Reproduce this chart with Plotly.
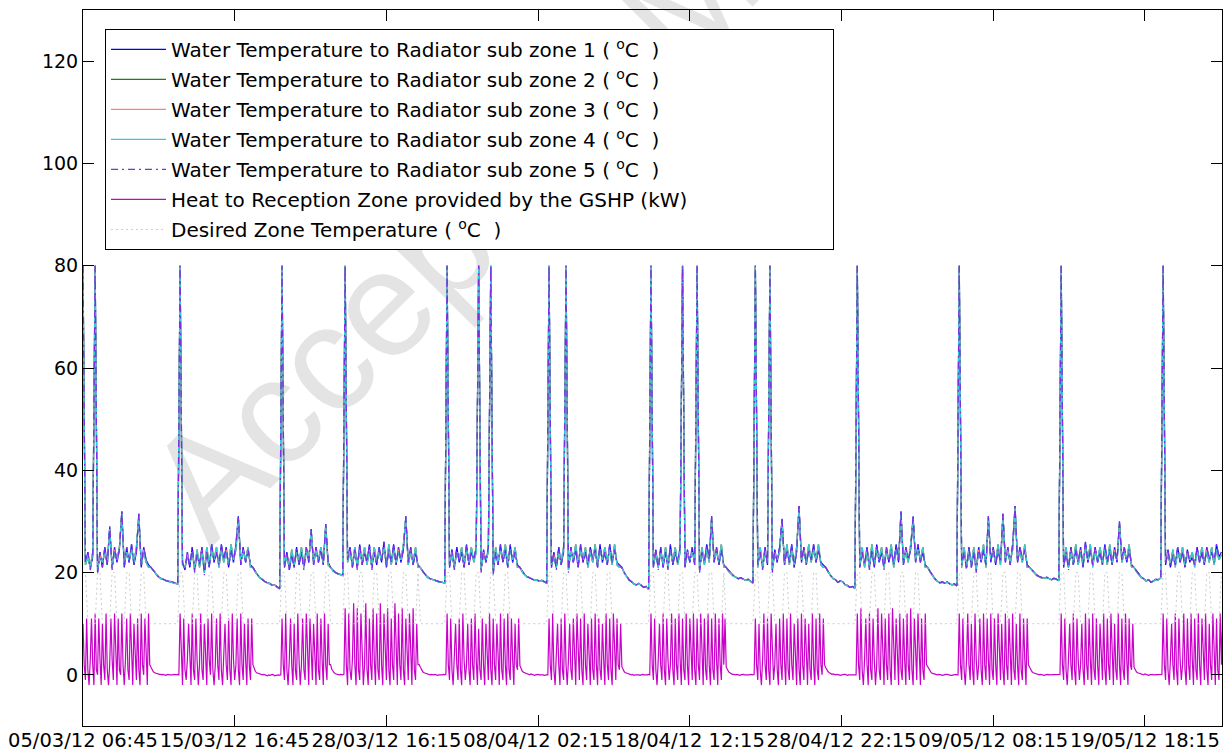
import plotly.graph_objects as go

# time axis: water/setpoint one point every 16 samples of 15 min (4 h), heat every 8 samples (2 h)
STEP = 16
STEP_HEAT = 8
tick_pos = [0, 1000, 2000, 3000, 4000, 5000, 6000, 7000]
tick_text = ["05/03/12 06:45", "15/03/12 16:45", "28/03/12 16:15", "08/04/12 02:15",
             "18/04/12 12:15", "28/04/12 22:15", "09/05/12 08:15", "19/05/12 18:15"]
y_ticks = [0, 20, 40, 60, 80, 100, 120]

water1 = [
    80, 22, 24, 21, 23, 80, 20, 24, 21, 25, 21.5, 29, 21, 25, 22, 24.5, 32, 21, 25, 22, 25.5, 21.5, 24, 31.5, 21, 25, 22.5, 21.5,
    21, 20.5, 19.8, 19.2, 18.9, 18.7, 18.5, 18.3, 18.3, 18.1, 17.9, 17.8,
    80, 22, 20.5, 24, 21, 25, 20.5, 23.5, 21.5, 25, 20, 24, 21, 25.5, 22, 24, 21.5, 25.5, 22.5, 25, 21, 24.5, 22, 25.5, 31, 21.5, 25, 22, 24.5, 21.5,
    21, 20.2, 19.5, 19, 18.6, 18.2, 18, 17.9, 17.5, 17.6, 17.2, 16.9,
    80, 21, 24, 20.5, 23.5, 21, 25, 21.5, 24, 21, 25, 22, 28.5, 21.5, 25, 22, 24.5, 21.5, 29.5, 22,
    21, 20.4, 20, 19.8, 19.6, 19.5,
    80, 22.5, 25, 21, 24.5, 21, 25.5, 21.5, 24, 22, 25.5, 21, 24, 21.5, 25, 22, 26, 21, 24.5, 22, 25.5, 21.5, 25, 22, 24.5, 31, 22, 25, 21.5, 24, 21.5,
    21, 20.3, 19.6, 19.1, 18.8, 18.7, 18.5, 18.3, 18.2, 18.1, 18,
    80, 21, 24.5, 21, 25, 22, 24, 21, 25.5, 21.5, 24, 22.5, 25, 80, 20.5, 24.5, 22, 25, 80, 20, 24, 21.5, 25.5, 22, 24.5, 21, 25.5, 22, 24, 21.5,
    21, 20.2, 19.6, 19.2, 19, 18.8, 18.5, 18.6, 18.3, 18.5, 18.2, 18,
    80, 21, 24, 21, 25, 21.5, 24, 80, 20.5, 25, 22, 24.5, 21, 25.5, 22, 24, 21.5, 25, 22.5, 24.5, 21, 25.5, 22, 24, 21.5, 25.5, 22, 24.5, 22, 21.5,
    21, 20, 19.2, 18.6, 18.2, 17.8, 17.6, 17.9, 17.5, 17.1, 17.3, 16.7,
    80, 21, 24.5, 21, 25, 21, 24, 21, 25.5, 21.5, 24, 22, 25, 80, 21, 24.5, 22, 25, 21.5, 80, 20.5, 24, 22, 25.5, 22.5, 31, 22, 25, 21.5, 24.5, 21.5,
    21, 20.3, 19.8, 19.4, 19.1, 18.8, 19, 18.7, 18.5, 18.7, 18.3, 18,
    80, 21.5, 24, 21, 25, 21.5, 80, 20.5, 24.5, 22, 25, 30.5, 21.5, 24.5, 22, 25.5, 21, 24, 33, 22, 25, 21.5, 24.5, 22.5, 25.5, 22, 24.5, 22, 21.5,
    21, 20.2, 19.4, 18.9, 18.6, 18.1, 18.4, 18.2, 17.6, 17.5, 17.1, 17.3, 17,
    80, 21, 24, 21.5, 25, 21, 24.5, 21, 25.5, 22, 24, 21, 25, 22, 24.5, 21.5, 25.5, 22, 32, 21.5, 25, 22.5, 24.5, 31, 22, 25.5, 22, 24, 21.5,
    21, 20.2, 19.4, 18.8, 18.3, 18, 18.2, 17.9, 18.2, 17.8, 17.6, 17.8, 17.4,
    80, 21.5, 24, 21, 25, 21, 24, 20.5, 25, 22, 24.5, 21.5, 31, 22, 25, 21.5, 24.5, 22, 31.5, 22, 25, 21.5, 25.5, 33, 22, 25, 22.5, 24.5, 21.5,
    21, 20.5, 19.9, 19.5, 19.2, 19, 18.9, 19.1, 18.8, 18.6, 18.9, 18.7, 18.5,
    80, 21, 24, 21, 25, 21.5, 24.5, 22, 25, 21, 26, 22, 24.5, 21.5, 25, 22, 24, 21.5, 25.5, 22, 24.5, 21.5, 25, 22, 30, 22.5, 25, 22, 24.5, 21.5,
    21, 20.3, 19.6, 19.1, 18.8, 18.4, 18.6, 18.1, 18.4, 18.7, 18.6, 19,
    80, 21.5, 24.5, 21, 23.5, 21.5, 25, 22, 24, 21, 24.5, 22, 23, 21.5, 25, 22, 24, 21.5, 25, 22.5, 24, 22, 25.5, 23, 24,
]

water2 = [
    80, 21.5, 23, 21, 24, 80, 21, 23, 22, 24, 21.5, 28.5, 21, 24, 22.5, 25, 31.5, 21.5, 24, 22.5, 24.5, 22, 25, 31, 21.5, 24, 22, 21,
    21, 20.4, 19.7, 19.2, 18.8, 18.7, 18.4, 18.3, 18.2, 18.1, 17.9, 17.7,
    80, 21.5, 21, 23, 22, 24, 21, 24.5, 21, 24, 20.5, 25, 21.5, 24.5, 22.5, 25, 21, 24.5, 22, 24, 21.5, 25.5, 22.5, 24.5, 30.5, 22, 24, 22.5, 25, 21,
    21, 20.1, 19.5, 18.9, 18.6, 18.2, 18, 17.8, 17.5, 17.5, 17.2, 16.8,
    80, 21.5, 23, 21, 24.5, 21.5, 24, 22, 25, 21.5, 24, 22.5, 28, 22, 24, 22.5, 25, 22, 29, 21.5,
    21, 20.3, 20, 19.7, 19.6, 19.4,
    80, 22, 24, 21.5, 25, 21.5, 24.5, 22, 25, 21.5, 24.5, 21.5, 25, 22, 24, 22.5, 25, 21.5, 25.5, 21.5, 24.5, 22, 24, 22.5, 25.5, 30.5, 21.5, 24, 22, 25, 21,
    21, 20.2, 19.6, 19, 18.8, 18.6, 18.5, 18.3, 18.1, 18.1, 17.9,
    80, 21.5, 23.5, 21, 24, 22.5, 25, 21.5, 24.5, 22, 25, 22, 24, 80, 21, 23.5, 22.5, 24, 80, 20.5, 25, 22, 24.5, 22.5, 25.5, 21.5, 24.5, 22.5, 25, 21,
    21, 20.1, 19.6, 19.1, 19, 18.7, 18.5, 18.5, 18.3, 18.4, 18.2, 17.9,
    80, 21.5, 23, 21, 24, 22, 25, 80, 21, 24, 22.5, 25.5, 21.5, 24.5, 22.5, 25, 21, 24, 22, 25.5, 21.5, 24.5, 22.5, 25, 22, 24.5, 21.5, 25.5, 21.5, 21,
    21, 19.9, 19.2, 18.5, 18.2, 17.7, 17.6, 17.8, 17.5, 17.1, 17.2, 16.7,
    80, 21.5, 23.5, 21, 24, 21.5, 25, 21, 24.5, 22, 25, 21.5, 24, 80, 21.5, 23.5, 22.5, 24, 22, 80, 21, 25, 21.5, 24.5, 22, 30.5, 22.5, 24, 22, 25.5, 21,
    21, 20.2, 19.8, 19.3, 19.1, 18.8, 18.9, 18.7, 18.5, 18.6, 18.3, 17.9,
    80, 21, 25, 21, 24, 22, 80, 21, 23.5, 22.5, 24, 30, 22, 25.5, 21.5, 24.5, 21.5, 25, 32.5, 22.5, 24, 22, 25.5, 22, 24.5, 22.5, 25.5, 21.5, 21,
    21, 20.1, 19.4, 18.8, 18.6, 18.1, 18.3, 18.2, 17.6, 17.4, 17.1, 17.2, 16.9,
    80, 21.5, 25, 21, 24, 21.5, 25.5, 21.5, 24.5, 22.5, 25, 21.5, 24, 22.5, 25.5, 21, 24.5, 22.5, 31.5, 22, 24, 22, 25.5, 30.5, 22.5, 24.5, 22.5, 25, 21,
    21, 20.1, 19.4, 18.7, 18.3, 18, 18.1, 17.9, 18.1, 17.8, 17.6, 17.7, 17.4,
    80, 21, 25, 21, 24, 21.5, 25, 21, 24, 22.5, 25.5, 21, 30.5, 22.5, 24, 22, 25.5, 21.5, 31, 22.5, 24, 22, 24.5, 32.5, 22.5, 24, 22, 25.5, 21,
    21, 20.4, 19.9, 19.4, 19.2, 18.9, 18.9, 19, 18.8, 18.6, 18.8, 18.7, 18.4,
    80, 21.5, 25, 21, 24, 22, 25.5, 21.5, 24, 21.5, 25, 22.5, 25.5, 21.5, 24, 22.5, 25, 22, 24.5, 21.5, 25.5, 22, 24, 22.5, 29.5, 22, 24, 22.5, 25.5, 21,
    21, 20.2, 19.6, 19, 18.8, 18.3, 18.6, 18.1, 18.3, 18.6, 18.6, 18.9,
    80, 22, 23.5, 21.5, 24.5, 21.5, 24, 22.5, 25, 21.5, 23.5, 22.5, 24, 21.5, 24, 22.5, 25, 22, 24, 22, 25, 21.5, 24.5, 22.5, 23.5,
]

water3 = [
    80, 21.5, 23.5, 21, 24, 80, 20.5, 23.5, 22, 24, 22, 28.5, 21, 24.5, 22.5, 25, 31.5, 21.5, 24, 22.5, 24.5, 22, 25, 31, 21.5, 24.5, 22, 21,
    21, 20.4, 19.8, 19.2, 18.8, 18.7, 18.4, 18.3, 18.2, 18.1, 17.9, 17.7,
    80, 21.5, 21, 23.5, 22, 24, 20.5, 24.5, 21, 24.5, 20, 25, 21.5, 24.5, 22.5, 25, 21, 24.5, 22, 24.5, 21.5, 25.5, 22.5, 24.5, 30.5, 22, 24.5, 22.5, 25, 21,
    21, 20.1, 19.5, 18.9, 18.6, 18.2, 18, 17.8, 17.5, 17.6, 17.2, 16.8,
    80, 21.5, 23.5, 21, 24.5, 21.5, 24, 22, 25, 21, 24.5, 22.5, 28, 22, 24.5, 22.5, 25, 22, 29, 21.5,
    21, 20.3, 20, 19.8, 19.6, 19.4,
    80, 22, 24.5, 21.5, 25, 21, 24.5, 22, 25, 21.5, 24.5, 21, 25, 22, 24.5, 22.5, 25, 21.5, 25.5, 21.5, 24.5, 22, 24.5, 22.5, 25.5, 30.5, 21.5, 24.5, 22, 25, 21,
    21, 20.2, 19.6, 19.1, 18.8, 18.6, 18.5, 18.3, 18.1, 18.1, 17.9,
    80, 21.5, 24, 21, 24, 22.5, 25, 21.5, 24.5, 22, 25, 22, 24.5, 80, 20.5, 24, 22.5, 24, 80, 20, 25, 22, 24.5, 22.5, 25.5, 21.5, 24.5, 22.5, 25, 21,
    21, 20.1, 19.6, 19.1, 19, 18.7, 18.5, 18.6, 18.3, 18.4, 18.2, 17.9,
    80, 21.5, 23.5, 21, 24, 22, 25, 80, 20.5, 24.5, 22.5, 25.5, 21.5, 24.5, 22.5, 25, 21, 24.5, 22, 25.5, 21.5, 24.5, 22.5, 25, 22, 24.5, 21.5, 25.5, 21.5, 21,
    21, 19.9, 19.2, 18.5, 18.2, 17.8, 17.6, 17.8, 17.5, 17.1, 17.2, 16.7,
    80, 21.5, 24, 21, 24, 21.5, 25, 21, 24.5, 22, 25, 21.5, 24.5, 80, 21.5, 24, 22.5, 24, 22, 80, 20.5, 25, 21.5, 24.5, 22, 30.5, 22.5, 24.5, 22, 25.5, 21,
    21, 20.2, 19.8, 19.3, 19.1, 18.8, 18.9, 18.7, 18.5, 18.6, 18.3, 17.9,
    80, 21, 25, 21, 24.5, 22, 80, 20.5, 24, 22.5, 24, 30, 22, 25.5, 21.5, 24.5, 21.5, 25, 32.5, 22.5, 24.5, 22, 25.5, 22, 24.5, 22.5, 25.5, 21.5, 21,
    21, 20.1, 19.4, 18.8, 18.6, 18.1, 18.3, 18.2, 17.6, 17.5, 17.1, 17.2, 16.9,
    80, 21.5, 25, 21, 24.5, 21, 25.5, 21.5, 24.5, 22.5, 25, 21, 24.5, 22.5, 25.5, 21, 24.5, 22.5, 31.5, 22, 24.5, 22, 25.5, 30.5, 22.5, 24.5, 22.5, 25, 21,
    21, 20.1, 19.4, 18.7, 18.3, 18, 18.1, 17.9, 18.1, 17.8, 17.6, 17.7, 17.4,
    80, 21, 25, 21, 24.5, 21.5, 25, 20.5, 24.5, 22.5, 25.5, 21, 30.5, 22.5, 24.5, 22, 25.5, 21.5, 31, 22.5, 24.5, 22, 24.5, 32.5, 22.5, 24.5, 22, 25.5, 21,
    21, 20.4, 19.9, 19.4, 19.2, 18.9, 18.9, 19, 18.8, 18.6, 18.8, 18.7, 18.4,
    80, 21.5, 25, 21, 24.5, 22, 25.5, 21.5, 24.5, 21.5, 25, 22.5, 25.5, 21, 24.5, 22.5, 25, 22, 24.5, 21.5, 25.5, 22, 24.5, 22.5, 29.5, 22, 24.5, 22.5, 25.5, 21,
    21, 20.2, 19.6, 19, 18.8, 18.3, 18.6, 18.1, 18.3, 18.6, 18.6, 18.9,
    80, 22, 24, 21.5, 24.5, 21, 24, 22.5, 25, 21.5, 24, 22.5, 24, 21, 24, 22.5, 25, 22, 24.5, 22, 25, 21.5, 24.5, 22.5, 23.5,
]

water4 = [
    80, 21.5, 23, 21, 24, 80, 20.5, 23, 22, 24, 22, 28.5, 21, 24, 22.5, 25, 31.5, 21.5, 24, 22.5, 24.5, 22, 25, 31, 21.5, 24, 22, 21,
    21, 20.4, 19.7, 19.2, 18.8, 18.7, 18.4, 18.3, 18.2, 18.1, 17.9, 17.7,
    80, 21.5, 21, 23, 22, 24, 20.5, 24.5, 21, 24, 20, 25, 21.5, 24.5, 22.5, 25, 21, 24.5, 22, 24, 21.5, 25.5, 22.5, 24.5, 30.5, 22, 24, 22.5, 25, 21,
    21, 20.1, 19.5, 18.9, 18.6, 18.2, 18, 17.8, 17.5, 17.5, 17.2, 16.8,
    80, 21.5, 23, 21, 24.5, 21.5, 24, 22, 25, 21, 24, 22.5, 28, 22, 24, 22.5, 25, 22, 29, 21.5,
    21, 20.3, 20, 19.7, 19.6, 19.4,
    80, 22, 24, 21.5, 25, 21, 24.5, 22, 25, 21.5, 24.5, 21, 25, 22, 24, 22.5, 25, 21.5, 25.5, 21.5, 24.5, 22, 24, 22.5, 25.5, 30.5, 21.5, 24, 22, 25, 21,
    21, 20.2, 19.6, 19, 18.8, 18.6, 18.5, 18.3, 18.1, 18.1, 17.9,
    80, 21.5, 23.5, 21, 24, 22.5, 25, 21.5, 24.5, 22, 25, 22, 24, 80, 20.5, 23.5, 22.5, 24, 80, 20, 25, 22, 24.5, 22.5, 25.5, 21.5, 24.5, 22.5, 25, 21,
    21, 20.1, 19.6, 19.1, 19, 18.7, 18.5, 18.5, 18.3, 18.4, 18.2, 17.9,
    80, 21.5, 23, 21, 24, 22, 25, 80, 20.5, 24, 22.5, 25.5, 21.5, 24.5, 22.5, 25, 21, 24, 22, 25.5, 21.5, 24.5, 22.5, 25, 22, 24.5, 21.5, 25.5, 21.5, 21,
    21, 19.9, 19.2, 18.5, 18.2, 17.7, 17.6, 17.8, 17.5, 17.1, 17.2, 16.7,
    80, 21.5, 23.5, 21, 24, 21.5, 25, 21, 24.5, 22, 25, 21.5, 24, 80, 21.5, 23.5, 22.5, 24, 22, 80, 20.5, 25, 21.5, 24.5, 22, 30.5, 22.5, 24, 22, 25.5, 21,
    21, 20.2, 19.8, 19.3, 19.1, 18.8, 18.9, 18.7, 18.5, 18.6, 18.3, 17.9,
    80, 21, 25, 21, 24, 22, 80, 20.5, 23.5, 22.5, 24, 30, 22, 25.5, 21.5, 24.5, 21.5, 25, 32.5, 22.5, 24, 22, 25.5, 22, 24.5, 22.5, 25.5, 21.5, 21,
    21, 20.1, 19.4, 18.8, 18.6, 18.1, 18.3, 18.2, 17.6, 17.4, 17.1, 17.2, 16.9,
    80, 21.5, 25, 21, 24, 21, 25.5, 21.5, 24.5, 22.5, 25, 21, 24, 22.5, 25.5, 21, 24.5, 22.5, 31.5, 22, 24, 22, 25.5, 30.5, 22.5, 24.5, 22.5, 25, 21,
    21, 20.1, 19.4, 18.7, 18.3, 18, 18.1, 17.9, 18.1, 17.8, 17.6, 17.7, 17.4,
    80, 21, 25, 21, 24, 21.5, 25, 20.5, 24, 22.5, 25.5, 21, 30.5, 22.5, 24, 22, 25.5, 21.5, 31, 22.5, 24, 22, 24.5, 32.5, 22.5, 24, 22, 25.5, 21,
    21, 20.4, 19.9, 19.4, 19.2, 18.9, 18.9, 19, 18.8, 18.6, 18.8, 18.7, 18.4,
    80, 21.5, 25, 21, 24, 22, 25.5, 21.5, 24, 21.5, 25, 22.5, 25.5, 21, 24, 22.5, 25, 22, 24.5, 21.5, 25.5, 22, 24, 22.5, 29.5, 22, 24, 22.5, 25.5, 21,
    21, 20.2, 19.6, 19, 18.8, 18.3, 18.6, 18.1, 18.3, 18.6, 18.6, 18.9,
    80, 22, 23.5, 21.5, 24.5, 21, 24, 22.5, 25, 21.5, 23.5, 22.5, 24, 21, 24, 22.5, 25, 22, 24, 22, 25, 21.5, 24.5, 22.5, 23.5,
]

water5 = [
    80, 22, 24, 20.5, 23, 80, 20, 24, 21, 25, 21.5, 29, 20.5, 25, 22, 24.5, 32, 21, 25, 22, 25.5, 21.5, 24, 31.5, 21, 25, 22.5, 21.5,
    21, 20.5, 19.8, 19.2, 18.9, 18.7, 18.5, 18.3, 18.3, 18.1, 17.9, 17.8,
    80, 22, 20.5, 24, 21, 25, 20, 23.5, 21.5, 25, 19.5, 24, 21, 25.5, 22, 24, 21.5, 25.5, 22.5, 25, 21, 24.5, 22, 25.5, 31, 21.5, 25, 22, 24.5, 21.5,
    21, 20.2, 19.5, 19, 18.6, 18.2, 18, 17.9, 17.5, 17.6, 17.2, 16.9,
    80, 21, 24, 20.5, 23.5, 21, 25, 21.5, 24, 20.5, 25, 22, 28.5, 21.5, 25, 22, 24.5, 21.5, 29.5, 22,
    21, 20.4, 20, 19.8, 19.6, 19.5,
    80, 22.5, 25, 21, 24.5, 20.5, 25.5, 21.5, 24, 22, 25.5, 20.5, 24, 21.5, 25, 22, 26, 21, 24.5, 22, 25.5, 21.5, 25, 22, 24.5, 31, 22, 25, 21.5, 24, 21.5,
    21, 20.3, 19.6, 19.1, 18.8, 18.7, 18.5, 18.3, 18.2, 18.1, 18,
    80, 21, 24.5, 20.5, 25, 22, 24, 21, 25.5, 21.5, 24, 22.5, 25, 80, 20, 24.5, 22, 25, 80, 19.5, 24, 21.5, 25.5, 22, 24.5, 21, 25.5, 22, 24, 21.5,
    21, 20.2, 19.6, 19.2, 19, 18.8, 18.5, 18.6, 18.3, 18.5, 18.2, 18,
    80, 21, 24, 20.5, 25, 21.5, 24, 80, 20, 25, 22, 24.5, 21, 25.5, 22, 24, 21.5, 25, 22.5, 24.5, 21, 25.5, 22, 24, 21.5, 25.5, 22, 24.5, 22, 21.5,
    21, 20, 19.2, 18.6, 18.2, 17.8, 17.6, 17.9, 17.5, 17.1, 17.3, 16.7,
    80, 21, 24.5, 20.5, 25, 21, 24, 20.5, 25.5, 21.5, 24, 22, 25, 80, 21, 24.5, 22, 25, 21.5, 80, 20, 24, 22, 25.5, 22.5, 31, 22, 25, 21.5, 24.5, 21.5,
    21, 20.3, 19.8, 19.4, 19.1, 18.8, 19, 18.7, 18.5, 18.7, 18.3, 18,
    80, 21.5, 24, 20.5, 25, 21.5, 80, 20, 24.5, 22, 25, 30.5, 21.5, 24.5, 22, 25.5, 21, 24, 33, 22, 25, 21.5, 24.5, 22.5, 25.5, 22, 24.5, 22, 21.5,
    21, 20.2, 19.4, 18.9, 18.6, 18.1, 18.4, 18.2, 17.6, 17.5, 17.1, 17.3, 17,
    80, 21, 24, 21.5, 25, 20.5, 24.5, 21, 25.5, 22, 24, 20.5, 25, 22, 24.5, 21.5, 25.5, 22, 32, 21.5, 25, 22.5, 24.5, 31, 22, 25.5, 22, 24, 21.5,
    21, 20.2, 19.4, 18.8, 18.3, 18, 18.2, 17.9, 18.2, 17.8, 17.6, 17.8, 17.4,
    80, 21.5, 24, 20.5, 25, 21, 24, 20, 25, 22, 24.5, 21.5, 31, 22, 25, 21.5, 24.5, 22, 31.5, 22, 25, 21.5, 25.5, 33, 22, 25, 22.5, 24.5, 21.5,
    21, 20.5, 19.9, 19.5, 19.2, 19, 18.9, 19.1, 18.8, 18.6, 18.9, 18.7, 18.5,
    80, 21, 24, 20.5, 25, 21.5, 24.5, 22, 25, 21, 26, 22, 24.5, 21.5, 25, 22, 24, 21.5, 25.5, 22, 24.5, 21.5, 25, 22, 30, 22.5, 25, 22, 24.5, 21.5,
    21, 20.3, 19.6, 19.1, 18.8, 18.4, 18.6, 18.1, 18.4, 18.7, 18.6, 19,
    80, 21.5, 24.5, 21, 23.5, 21.5, 25, 22, 24, 21, 24.5, 22, 23, 21.5, 25, 22, 24, 21.5, 25, 22.5, 24, 22, 25.5, 23, 24,
]

heat = [
    10, 2, -1, 11, 1, -2, 3, 11, 2, -2, 12, 1, 0, 11, 3, -2, 10, 2, -1, 12, 1, -2, 2, 11, 3, -1, 12, 2, -2, 11,
    1, 0, 12, 2, -2, 3, 11, 1, -1, 12, 2, -2, 10, 3, -1, 11, 1, -2, 12, 2, 0, 11, 3, -2, 12, 2,
    1.5, 1, 0.6, 0.4, 0.3, 0.2, 0.2, 0.1, 0.1, 0, 0.1, 0, -0.1, 0, 0.1, 0, 0, -0.1, 0, 0.1, 0, 0, 0.1, 0,
    12, 2, -2, 11, 1, -1, 3, 10, 2, -2, 12, 1, -1, 11, 3, -2, 2, 12, 1, -1, 10, 2, -2, 11, 3, 0, 12, 1, -2, 2,
    11, 2, -1, 12, 1, -2, 3, 10, 2, -1, 11, 1, -2, 12, 3, -1, 2, 11, 1, -2, 12, 2, -1, 10, 3, -2, 11, 2, -1, 11,
    2, 1.2, 0.7, 0.4, 0.3, 0.2, 0.1, 0.1, 0, 0.1, 0, -0.1, -0.2, 0, -0.1, 0, 0.1, 0, -0.2, -0.1, 0, 0, -0.1, 0,
    11, 2, -1, 12, 1, -2, 3, 11, 2, -2, 10, 1, -1, 12, 3, -2, 2, 11, 1, -1,
    12, 2, -2, 11, 3, -1, 10, 2, -2, 12, 1, -1, 11, 3, -2, 12, 2, -1, 10, 2,
    2, 1.1, 0.6, 0.4, 0.2, 0.1, 0.1, 0, 0.1, 0, 0, 0.1,
    13, 2, -2, 12, 1, -1, 3, 14, 2, -2, 13, 1, -1, 12, 3, -2, 2, 14, 1, -2, 11, 2, -1, 13, 3, -2, 12, 1, -1, 14,
    2, -2, 12, 3, -1, 13, 1, -2, 11, 2, -1, 14, 3, -2, 12, 2, -1, 13, 1, -2, 11, 3, -1, 12, 2, -2, 13, 1, -1, 10,
    2, 2,
    1.5, 1, 0.6, 0.4, 0.3, 0.2, 0.1, 0.1, 0, 0.1, 0, 0, 0.1, 0, -0.1, 0, 0, -0.1, 0, 0.1, 0, 0.1,
    12, 2, -1, 11, 1, -2, 3, 10, 2, -1, 11, 1, -2, 12, 3, -1, 2, 10, 1, -2, 11, 2, -1, 12, 3, -2, 9, 1, -1, 11,
    2, -2, 10, 3, -1, 12, 1, -2, 11, 2, -1, 10, 3, -2, 12, 1, -1, 11, 2, -2, 12, 1, -1, 11, 3, -2, 10, 2, 1, 11,
    1.8, 1.1, 0.7, 0.5, 0.4, 0.2, 0.1, 0.1, 0, 0.2, 0.1, 0, -0.1, 0, 0.1, 0.1, 0, 0, 0.1, 0, -0.1, 0, 0, 0,
    11, 2, -1, 12, 1, -2, 3, 10, 2, -2, 11, 1, -1, 12, 2, -2, 3, 10, 1, -1, 11, 2, -2, 12, 3, -1, 11, 1, -2, 12,
    2, -1, 10, 3, -2, 11, 1, -1, 12, 2, -2, 11, 1, -1, 10, 3, -2, 12, 2, -1, 11, 1, -2, 12, 3, -1, 11, 2, 1, 10,
    1.6, 1, 0.6, 0.4, 0.3, 0.2, 0.1, 0.1, 0, 0.1, -0.1, 0, 0, 0.1, 0, -0.1, 0, 0.1, 0, 0, -0.1, 0, 0.1, 0,
    12, 2, -1, 11, 1, -2, 3, 10, 2, -1, 12, 1, -2, 11, 3, -1, 2, 12, 1, -2, 11, 2, -1, 12, 3, -2, 11, 1, -1, 12,
    2, -2, 11, 3, -1, 12, 1, -2, 11, 2, -1, 12, 3, -2, 11, 1, -1, 12, 2, -2, 11, 1, -1, 12, 3, -2, 11, 2, -1, 12,
    2, 11,
    1.5, 1, 0.6, 0.4, 0.2, 0.1, 0.1, 0, 0, 0.1, 0, -0.1, 0, 0.1, 0.1, 0, 0, 0, -0.1, 0, 0.1, 0, 0, 0.1,
    11, 2, -1, 10, 1, -2, 3, 12, 2, -1, 11, 1, -2, 12, 3, -1, 2, 10, 1, -2, 11, 2, -1, 12, 3, -2, 11, 1, -1, 12,
    2, -1, 10, 3, -2, 11, 1, -2, 12, 2, -1, 11, 3, -2, 10, 1, -1, 12, 2, -2, 11, 1, -1, 12, 2, 0, 11, 2,
    1.4, 0.9, 0.6, 0.4, 0.3, 0.1, 0.2, 0.1, 0, 0.1, 0.1, 0, -0.1, 0, 0, 0.1, 0.1, 0, -0.1, 0, 0, 0.1, 0, 0, 0.1, 0,
    12, 2, -1, 13, 1, -2, 3, 11, 2, -2, 12, 1, -1, 11, 3, -2, 2, 13, 1, -1, 12, 3, -2, 11, 2, -1, 12, 1, -2, 13,
    3, -1, 11, 2, -2, 12, 1, -1, 11, 3, -2, 12, 2, -1, 13, 1, -2, 11, 3, -1, 12, 2, -2, 11, 1, -1, 12, 2,
    1.6, 1, 0.7, 0.4, 0.3, 0.2, 0.1, 0.1, 0, 0.1, 0.1, 0, -0.1, 0, 0, 0.1, 0.1, 0, 0, -0.1, -0.1, 0, 0, 0.1, 0, 0,
    12, 2, -1, 11, 1, -2, 3, 12, 2, -1, 10, 1, -2, 12, 3, -1, 2, 11, 1, -2, 12, 2, -1, 11, 3, -2, 12, 1, -1, 11,
    2, -2, 12, 3, -1, 10, 1, -2, 12, 2, -1, 11, 3, -2, 12, 1, -1, 10, 2, -2, 12, 1, -1, 11, 3, -2, 11, 2,
    1.5, 1, 0.6, 0.4, 0.3, 0.2, 0.1, 0.1, 0, 0.1, 0, 0, -0.1, 0, 0.1, 0.1, 0, 0, 0, 0.1, 0, 0, 0.1, 0.1, 0, 0.1,
    12, 2, -1, 11, 1, -2, 3, 10, 2, -1, 12, 1, -2, 11, 3, -1, 2, 10, 1, -2, 12, 2, -1, 11, 3, -2, 12, 1, -1, 11,
    2, -2, 10, 3, -1, 12, 1, -2, 11, 2, -1, 12, 3, -2, 10, 1, -1, 12, 2, -2, 11, 1, -1, 12, 3, -2, 11, 2, 1, 10,
    1.5, 1, 0.6, 0.4, 0.3, 0.2, 0.1, 0.1, 0, 0.2, 0.1, 0, -0.1, 0, 0.1, 0.1, 0, 0, 0.1, 0, 0, 0.1, 0, 0.1,
    12, 2, -1, 11, 1, -2, 3, 10, 2, -1, 12, 1, -2, 11, 3, -1, 2, 12, 1, -2, 11, 2, -1, 12, 3, -2, 11, 1, -1, 12,
    2, -2, 11, 3, -1, 12, 1, -2, 10, 2, -1, 12, 3, -2, 11, 1, -1, 12, 2, 12,
]

desired = [
    20, 20, 10, 10, 10, 10, 20, 20, 10, 10, 10, 10, 20, 20, 10, 10, 10, 10, 20, 20, 10, 10, 10, 10, 20, 20, 10, 10,
    10, 10, 10, 10, 10, 10, 10, 10, 10, 10, 10, 10,
    20, 20, 10, 10, 10, 10, 20, 20, 10, 10, 10, 10, 20, 20, 10, 10, 10, 10, 20, 20, 10, 10, 10, 10, 20, 20, 10, 10, 10, 10,
    10, 10, 10, 10, 10, 10, 10, 10, 10, 10, 10, 10,
    20, 20, 10, 10, 10, 10, 20, 20, 10, 10, 10, 10, 20, 20, 10, 10, 10, 10, 20, 20,
    10, 10, 10, 10, 10, 10,
    20, 20, 10, 10, 10, 10, 20, 20, 10, 10, 10, 10, 20, 20, 10, 10, 10, 10, 20, 20, 10, 10, 10, 10, 20, 20, 10, 10, 10, 10, 20,
    10, 10, 10, 10, 10, 10, 10, 10, 10, 10, 10,
    20, 20, 10, 10, 10, 10, 20, 20, 10, 10, 10, 10, 20, 20, 10, 10, 10, 10, 20, 20, 10, 10, 10, 10, 20, 20, 10, 10, 10, 10,
    10, 10, 10, 10, 10, 10, 10, 10, 10, 10, 10, 10,
    20, 20, 10, 10, 10, 10, 20, 20, 10, 10, 10, 10, 20, 20, 10, 10, 10, 10, 20, 20, 10, 10, 10, 10, 20, 20, 10, 10, 10, 10,
    10, 10, 10, 10, 10, 10, 10, 10, 10, 10, 10, 10,
    20, 20, 10, 10, 10, 10, 20, 20, 10, 10, 10, 10, 20, 20, 10, 10, 10, 10, 20, 20, 10, 10, 10, 10, 20, 20, 10, 10, 10, 10, 20,
    10, 10, 10, 10, 10, 10, 10, 10, 10, 10, 10, 10,
    20, 20, 10, 10, 10, 10, 20, 20, 10, 10, 10, 10, 20, 20, 10, 10, 10, 10, 20, 20, 10, 10, 10, 10, 20, 20, 10, 10, 10,
    10, 10, 10, 10, 10, 10, 10, 10, 10, 10, 10, 10, 10,
    20, 20, 10, 10, 10, 10, 20, 20, 10, 10, 10, 10, 20, 20, 10, 10, 10, 10, 20, 20, 10, 10, 10, 10, 20, 20, 10, 10, 10,
    10, 10, 10, 10, 10, 10, 10, 10, 10, 10, 10, 10, 10,
    20, 20, 10, 10, 10, 10, 20, 20, 10, 10, 10, 10, 20, 20, 10, 10, 10, 10, 20, 20, 10, 10, 10, 10, 20, 20, 10, 10, 10,
    10, 10, 10, 10, 10, 10, 10, 10, 10, 10, 10, 10, 10,
    20, 20, 10, 10, 10, 10, 20, 20, 10, 10, 10, 10, 20, 20, 10, 10, 10, 10, 20, 20, 10, 10, 10, 10, 20, 20, 10, 10, 10, 10,
    10, 10, 10, 10, 10, 10, 10, 10, 10, 10, 10, 10,
    20, 20, 10, 10, 10, 10, 20, 20, 10, 10, 10, 10, 20, 20, 10, 10, 10, 10, 20, 20, 10, 10, 10, 10, 20,
]

PAD = "\u00a0" * 22  # widens the legend box like the original
names = [
    "Water Temperature to Radiator sub zone 1 ( <sup>o</sup>C  )",
    "Water Temperature to Radiator sub zone 2 ( <sup>o</sup>C  )",
    "Water Temperature to Radiator sub zone 3 ( <sup>o</sup>C  )",
    "Water Temperature to Radiator sub zone 4 ( <sup>o</sup>C  )",
    "Water Temperature to Radiator sub zone 5 ( <sup>o</sup>C  )",
    "Heat to Reception Zone provided by the GSHP (kW)" + PAD,
    "Desired Zone Temperature ( <sup>o</sup>C  )",
]
series = [water1, water2, water3, water4, water5, heat, desired]
steps = [STEP, STEP, STEP, STEP, STEP, STEP_HEAT, STEP]
colors = ["#0000ff", "#1a801a", "#ff7f7f", "#33cccc", "#7a2ee6", "#c800c8", "#cccccc"]
dashes = ["solid", "solid", "solid", "solid", "7px,4px,2px,4px", "solid", "2px,3px"]
widths = [1.2, 1.2, 1.2, 1.3, 1.3, 1.2, 1.0]

fig = go.Figure()
for k, vals in enumerate(series):
    fig.add_trace(go.Scatter(
        x=[i * steps[k] for i in range(len(vals))], y=vals, mode="lines", name=names[k],
        legendgroup="g%d" % k,
        line=dict(color=colors[k], width=widths[k], dash=dashes[k]),
    ))

# faint diagonal watermark behind everything
fig.add_shape(type="rect", xref="paper", yref="paper", x0=0.505, x1=0.5055, y0=1.004, y1=1.0045,
              line=dict(width=0), fillcolor="rgba(0,0,0,0)", layer="below",
              label=dict(text="Accepted Manuscript", textangle=-45, textposition="middle center",
                         font=dict(family="Liberation Sans", size=150, color="#e4e4e4")))

axis_common = dict(showline=True, linecolor="black", linewidth=1, mirror="ticks",
                   ticks="inside", ticklen=11, tickcolor="black", tickwidth=1,
                   showgrid=False, zeroline=False, automargin=False)

fig.update_layout(
    width=1227, height=752, autosize=False,
    margin=dict(l=83, r=5, t=10, b=26, pad=0),
    paper_bgcolor="white", plot_bgcolor="rgba(0,0,0,0)",
    font=dict(family="DejaVu Sans", size=19, color="black"),
    showlegend=True,
    legend=dict(x=0.0193, y=0.9735, xanchor="left", yanchor="top",
                bgcolor="white", bordercolor="black", borderwidth=1,
                font=dict(family="DejaVu Sans", size=20, color="black"),
                traceorder="grouped", tracegroupgap=1, itemwidth=55),
    xaxis=dict(range=[0, 7508], tickmode="array", tickvals=tick_pos, ticktext=tick_text,
               tickangle=0, ticklabelstandoff=-3,
               tickfont=dict(family="DejaVu Sans", size=19.5, color="black"), **axis_common),
    yaxis=dict(range=[-10, 130], tickmode="array", tickvals=y_ticks,
               ticktext=[str(v) for v in y_ticks], ticklabelstandoff=0,
               tickfont=dict(family="DejaVu Sans", size=19, color="black"), **axis_common),
)

fig.write_html("out.html", config={"displayModeBar": False},
               post_script="document.body.style.margin='0px';")
